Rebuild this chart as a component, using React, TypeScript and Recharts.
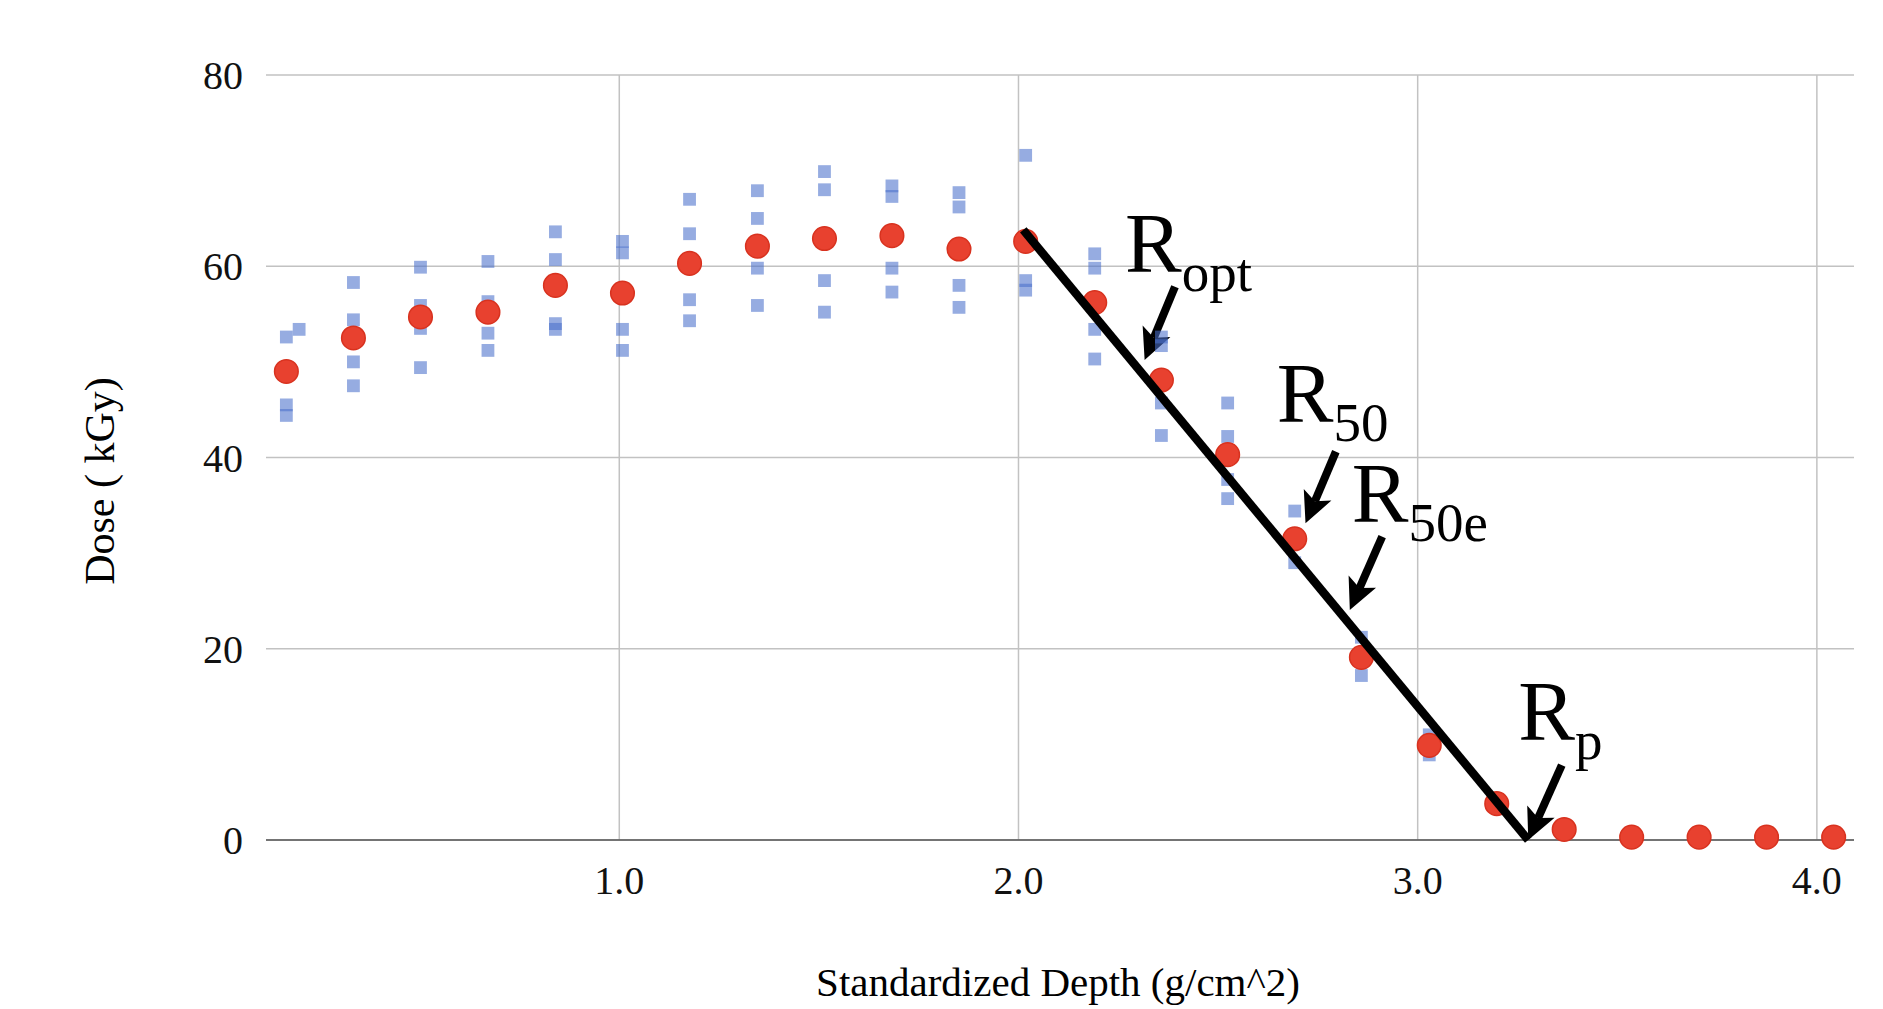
import React from 'react';
import {
  ScatterChart,
  Scatter,
  XAxis,
  YAxis,
  CartesianGrid,
  ReferenceLine,
  ReferenceDot,
} from 'recharts';

// Standardized depth (g/cm^2) of each measurement position
const depth = [
  0.166, 0.334, 0.502, 0.671, 0.84, 1.008, 1.176, 1.346, 1.514, 1.683, 1.851, 2.018,
  2.191, 2.358, 2.524, 2.692, 2.859, 3.029, 3.198, 3.367, 3.536, 3.705, 3.874, 4.042,
];
// Mean dose (kGy)
const meanDose = [
  49.0, 52.5, 54.7, 55.2, 58.0, 57.2, 60.3, 62.1, 62.9, 63.2, 61.8, 62.6,
  56.2, 48.1, 40.3, 31.5, 19.1, 9.9, 3.8, 1.1, 0.3, 0.3, 0.3, 0.3,
];
// Individual dosimeter runs (kGy)
const run1Depth = [
  0.198, 0.334, 0.502, 0.671, 0.84, 1.008, 1.176, 1.346, 1.514, 1.683, 1.851, 2.018,
  2.191, 2.358, 2.524, 2.692, 2.859, 3.029, 3.198, 3.367, 3.536, 3.705, 3.874, 4.042,
];
const run1 = [
  53.4, 58.3, 59.9, 60.5, 63.6, 62.6, 67.0, 67.9, 69.9, 68.4, 67.7, 71.6,
  61.3, 52.6, 45.7, 34.4, 21.2, 11.0, 4.2, 1.4, 0.4, 0.3, 0.3, 0.3,
];
const run2 = [
  52.6, 54.4, 55.9, 56.3, 60.7, 61.4, 63.4, 65.0, 68.0, 67.3, 66.2, 62.8,
  59.8, 51.7, 42.2, 31.6, 19.5, 10.2, 3.9, 1.1, 0.3, 0.3, 0.3, 0.3,
];
const run3 = [
  45.5, 50.0, 53.5, 53.0, 54.0, 53.4, 56.5, 59.8, 58.5, 59.8, 58.0, 58.5,
  53.4, 45.7, 37.7, 31.0, 18.8, 9.6, 3.7, 1.0, 0.3, 0.2, 0.2, 0.2,
];
const run4 = [
  44.4, 47.5, 49.4, 51.2, 53.4, 51.2, 54.3, 55.9, 55.2, 57.3, 55.7, 57.5,
  50.3, 42.3, 35.7, 29.0, 17.2, 8.9, 3.5, 0.9, 0.2, 0.2, 0.2, 0.2,
];

const xTicks = [1, 2, 3, 4];
const yTicks = [0, 20, 40, 60, 80];

// Linear fit of the falling edge
const fitStart = { x: 2.012, y: 63.8 };
const fitEnd = { x: 3.277, y: 0 };

// Annotation labels and arrows (data coordinates)
const annoSub = ['opt', '50', '50e', 'p'];
const annoTextX = [2.267, 2.647, 2.835, 3.252];
const annoTextY = [59.4, 43.74, 33.29, 10.46];
const arrowTailX = [2.392, 2.795, 2.911, 3.361];
const arrowTailY = [57.86, 40.61, 31.72, 7.84];
const arrowTipX = [2.316, 2.719, 2.83, 3.277];
const arrowTipY = [50.2, 33.12, 24.05, 0];

const FONT = "'Liberation Serif', 'Times New Roman', Times, serif";

const meanData = depth.map((x, i) => ({ x, y: meanDose[i] }));
const runData = [
  run1.map((y, i) => ({ x: run1Depth[i], y })),
  run2.map((y, i) => ({ x: depth[i], y })),
  run3.map((y, i) => ({ x: depth[i], y })),
  run4.map((y, i) => ({ x: depth[i], y })),
];
const fitData = [fitStart, fitEnd];

const BlueSquare = (p: any) => (
  <rect
    x={p.cx - 6.4}
    y={p.cy - 6.4}
    width={12.8}
    height={12.8}
    fill="#4a70cb"
    fillOpacity={0.58}
  />
);

const RedDot = (p: any) => (
  <circle cx={p.cx} cy={p.cy} r={11.8} fill="#e8412f" stroke="#d8321f" strokeWidth={1.5} />
);

const NoShape = () => <g />;

const Arrow = (p: any) => {
  const { x1, y1, x2, y2 } = p;
  if ([x1, y1, x2, y2].some((v) => v == null || isNaN(v))) return <g />;
  const dx = x2 - x1;
  const dy = y2 - y1;
  const len = Math.hypot(dx, dy) || 1;
  const ux = dx / len;
  const uy = dy / len;
  const headLen = 31;
  const headW = 15;
  const bx = x2 - ux * headLen;
  const by = y2 - uy * headLen;
  const nx = bx + ux * 7;
  const ny = by + uy * 7;
  return (
    <g>
      <line x1={x1} y1={y1} x2={nx} y2={ny} stroke="#000" strokeWidth={8} />
      <polygon
        points={`${x2},${y2} ${bx - uy * headW},${by + ux * headW} ${nx},${ny} ${bx + uy * headW},${by - ux * headW}`}
        fill="#000"
      />
    </g>
  );
};

const makeLabel = (sub: string) => (p: any) => (
  <text x={p.cx} y={p.cy} fontFamily={FONT} fontSize={85} fill="#000">
    R
    <tspan fontSize={55} dy={19}>
      {sub}
    </tspan>
  </text>
);

const YTitle = () => (
  <text
    x={100}
    y={481}
    transform="rotate(-90 100 481)"
    textAnchor="middle"
    dominantBaseline="central"
    fontFamily={FONT}
    fontSize={42}
    fill="#000"
  >
    Dose ( kGy)
  </text>
);

const XTitle = () => (
  <text x={1058} y={996} textAnchor="middle" fontFamily={FONT} fontSize={41} fill="#000">
    Standardized Depth (g/cm^2)
  </text>
);

export default function App() {
  return (
    <div style={{ width: 1883, height: 1009, background: '#fff' }}>
      <style>{'body{margin:0;overflow:hidden;background:#fff}'}</style>
      <ScatterChart
        width={1883}
        height={1009}
        margin={{ top: 75, right: 29, bottom: 0, left: 0 }}
      >
        <CartesianGrid
          stroke="#c2c2c2"
          strokeWidth={1.5}
          verticalValues={xTicks}
          horizontalValues={yTicks}
        />
        <XAxis
          type="number"
          dataKey="x"
          domain={[0.115, 4.093]}
          ticks={xTicks}
          allowDataOverflow
          tickFormatter={(v: number) => v.toFixed(1)}
          height={169}
          tickLine={false}
          tickSize={6}
          tickMargin={20}
          axisLine={{ stroke: '#555', strokeWidth: 1.6 }}
          tick={{ fontFamily: FONT, fontSize: 40, fill: '#111' }}
          label={<XTitle />}
        />
        <YAxis
          type="number"
          dataKey="y"
          domain={[0, 80]}
          ticks={yTicks}
          width={266}
          tickLine={false}
          axisLine={false}
          tickSize={6}
          tickMargin={17}
          tick={{ fontFamily: FONT, fontSize: 40, fill: '#111' }}
          label={<YTitle />}
        />
        {runData.map((d, i) => (
          <Scatter
            key={`run${i}`}
            data={d}
            shape={BlueSquare}
            isAnimationActive={false}
          />
        ))}
        <Scatter data={meanData} shape={RedDot} isAnimationActive={false} />
        <Scatter
          data={fitData}
          shape={NoShape}
          line={{ stroke: '#000', strokeWidth: 8.5 }}
          lineType="joint"
          isAnimationActive={false}
        />
        {annoSub.map((s, i) => (
          <ReferenceLine
            key={`arrow${i}`}
            segment={[
              { x: arrowTailX[i], y: arrowTailY[i] },
              { x: arrowTipX[i], y: arrowTipY[i] },
            ]}
            ifOverflow="visible"
            shape={Arrow}
          />
        ))}
        {annoSub.map((s, i) => (
          <ReferenceDot
            key={`label${i}`}
            x={annoTextX[i]}
            y={annoTextY[i]}
            r={0}
            ifOverflow="visible"
            shape={makeLabel(s)}
          />
        ))}
      </ScatterChart>
    </div>
  );
}
